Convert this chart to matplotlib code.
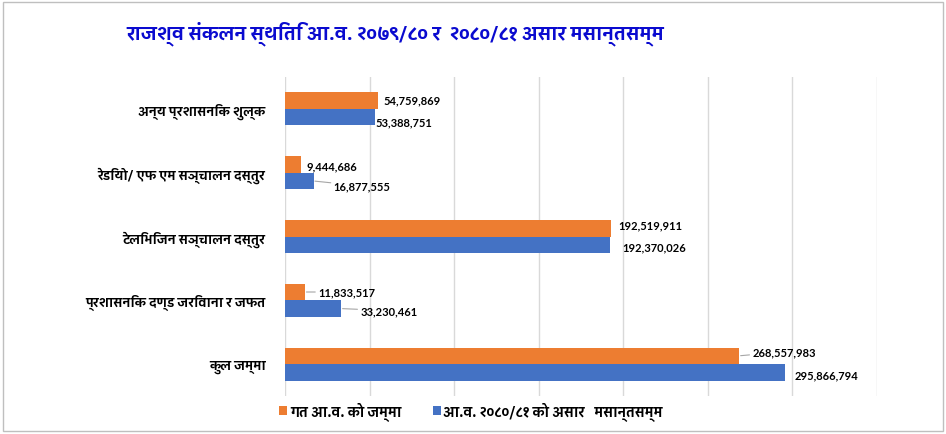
import matplotlib

matplotlib.use("Agg")
import matplotlib.pyplot as plt
from matplotlib import font_manager
from matplotlib.ft2font import FT2Font
from matplotlib.patches import Rectangle
import numpy as np


categories = [
    "अन्य प्रशासनिक शुल्क",
    "रेडियो/ एफ एम सञ्चालन दस्तुर",
    "टेलिभिजन सञ्चालन दस्तुर",
    "प्रशासनिक दण्ड जरिवाना र जफत",
    "कुल जम्मा",
]
last_year = [54759869, 9444686, 192519911, 11833517, 268557983]
this_year = [53388751, 16877555, 192370026, 33230461, 295866794]
series_names = ["गत आ.व. को जम्मा", "आ.व. २०८०/८१ को असार   मसान्तसम्म"]
title = "राजश्व संकलन स्थिति आ.व. २०७९/८० र  २०८०/८१ असार मसान्तसम्म"

ORANGE = "#ED7D31"
BLUE = "#4472C4"
GRID = "#D9D9D9"

# label offsets (pixels) from bar end: (dx, dy, leader line)
orange_offsets = [(6, 1, False), (6, -1, False), (8, 3, False), (13, 0, True), (13, 4, True)]
blue_offsets = [(0, -5, False), (20, -5, True), (12, -2, False), (19, -2, True), (9, -2, False)]


def find_deva_font():
    # collect fonts that carry Devanagari, prefer one with a bold face
    found = {}
    for entry in font_manager.fontManager.ttflist:
        try:
            cmap = FT2Font(entry.fname).get_charmap()
        except Exception:
            continue
        if 0x0915 in cmap and 0x0967 in cmap:
            w = entry.weight if isinstance(entry.weight, int) else 400
            found.setdefault(entry.name, set()).add(w)
    if not found:
        return None

    def score(name):
        s = 0
        if max(found[name]) >= 600:
            s += 4
        if "Devanagari" in name:
            s += 2
        if "Sans" in name:
            s += 1
        return s

    return max(sorted(found), key=score)


deva = find_deva_font()
fam = [deva, "DejaVu Sans"] if deva else ["DejaVu Sans"]
num_fam = ["Lato", "DejaVu Sans"]

fig = plt.figure(figsize=(9.46, 4.35), dpi=100)
ax = fig.add_axes([285 / 946, 38 / 435, 592 / 946, 319 / 435])

y = np.arange(len(categories))
h = 0.26
ax.barh(y - h / 2, last_year, h, color=ORANGE, label=series_names[0], zorder=3)
ax.barh(y + h / 2, this_year, h, color=BLUE, label=series_names[1], zorder=3)

ax.set_xlim(0, 350e6)
ax.set_ylim(len(categories) - 0.5, -0.5)
ax.set_xticks(np.arange(0, 350e6 + 1, 50e6))
ax.set_xticklabels([])
ax.tick_params(length=0)
ax.grid(axis="x", color=GRID, linewidth=1.0, zorder=0)
for s in ax.spines.values():
    s.set_visible(False)
ax.set_yticks(y)
ax.set_yticklabels(categories, family=fam, fontsize=9.2, fontweight="bold")
ax.tick_params(axis="y", pad=14)

for vals, pos, offs in [(last_year, y - h / 2, orange_offsets), (this_year, y + h / 2, blue_offsets)]:
    for v, yy, (dx, dy, lead) in zip(vals, pos, offs):
        ax.annotate(
            f"{v:,}",
            xy=(v, yy),
            xytext=(dx, dy),
            textcoords="offset pixels",
            ha="left",
            va="center",
            fontsize=8,
            fontweight="bold",
            family=num_fam,
            arrowprops=dict(arrowstyle="-", color="#A6A6A6", lw=0.8, shrinkA=0, shrinkB=1) if lead else None,
            zorder=4,
        )

fig.text(395 / 946, 1 - 34 / 435, title, ha="center", va="center", fontsize=13.5,
         fontweight="bold", color="#0A0ACF", family=fam)

leg = fig.legend(
    loc="center", bbox_to_anchor=(471 / 946, 1 - 412 / 435), ncol=2, frameon=False,
    prop={"family": fam, "size": 9.8, "weight": "bold"}, handlelength=0.6, handleheight=0.6,
    handletextpad=0.2, columnspacing=2.3,
)

fig.patches.append(Rectangle((3 / 946, 3 / 435), 940 / 946, 429 / 435, transform=fig.transFigure,
                             fill=False, edgecolor="#BFBFBF", linewidth=1.0))

fig.savefig("out.png", dpi=100)
